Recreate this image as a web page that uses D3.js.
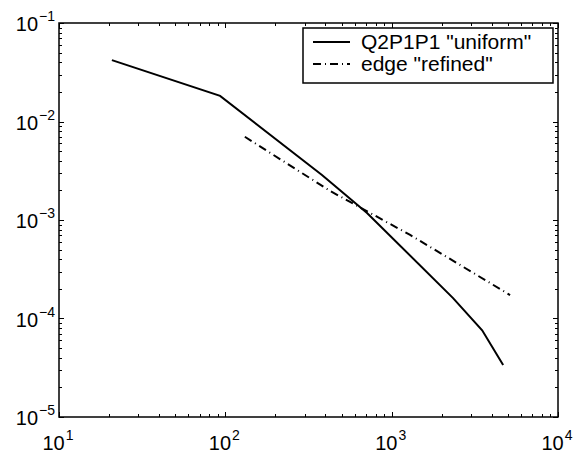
<!DOCTYPE html>
<html>
<head>
<meta charset="utf-8">
<script src="https://cdn.jsdelivr.net/npm/d3@7"></script>
<style>
  body { margin: 0; background: #fff; }
  svg text { font-family: "Liberation Sans", Arial, sans-serif; fill: #000; }
</style>
</head>
<body>
<div class="chart"></div>
<script>
// values
const uniformDofs = [20.8, 93, 381, 711, 2340, 3500, 4680]
const uniformErr = [0.042, 0.0182, 2.86e-3, 1.18e-3, 1.61e-4, 7.6e-5, 3.37e-5]
const refinedDofs = [131, 427, 1291, 5150]
const refinedErr = [7.0e-3, 1.97e-3, 7.05e-4, 1.73e-4]
const xTicks = [10, 100, 1000, 10000]
const yTicks = [1e-5, 1e-4, 1e-3, 1e-2, 1e-1]
const seriesNames = ['Q2P1P1 "uniform"', 'edge "refined"']

const width = 576
const height = 453
const margin = {left: 59, right: 18, top: 23, bottom: 36}

const svg = d3.select(".chart").append("svg")
    .attr("width", width)
    .attr("height", height)
    .attr("viewBox", [0, 0, width, height])

const x = d3.scaleLog()
    .domain([10, 10000])
    .range([margin.left, width - margin.right])
const y = d3.scaleLog()
    .domain([1e-5, 1e-1])
    .range([height - margin.bottom, margin.top])

const [x0, x1] = x.range()
const [y0, y1] = [y.range()[1], y.range()[0]]

// minor ticks for each decade
const minorTicks = (scale) => {
    const [a, b] = scale.domain()
    const out = []
    for (let e = Math.round(Math.log10(a)); e < Math.round(Math.log10(b)); e++) {
        for (let k = 2; k <= 9; k++) out.push(k * Math.pow(10, e))
    }
    return out
}

const ticks = svg.append("g").attr("stroke", "#000").attr("stroke-width", 1)

const addXTicks = (vals, len) => {
    vals.forEach(v => {
        const px = Math.round(x(v)) + 0.5
        ticks.append("line").attr("x1", px).attr("x2", px).attr("y1", y1).attr("y2", y1 - len)
        ticks.append("line").attr("x1", px).attr("x2", px).attr("y1", y0).attr("y2", y0 + len)
    })
}
const addYTicks = (vals, len) => {
    vals.forEach(v => {
        const py = Math.round(y(v)) + 0.5
        ticks.append("line").attr("x1", x0).attr("x2", x0 + len).attr("y1", py).attr("y2", py)
        ticks.append("line").attr("x1", x1).attr("x2", x1 - len).attr("y1", py).attr("y2", py)
    })
}
addXTicks(xTicks, 5)
addXTicks(minorTicks(x), 3)
addYTicks(yTicks, 5)
addYTicks(minorTicks(y), 3)

svg.append("rect")
    .attr("x", x0).attr("y", y0)
    .attr("width", x1 - x0).attr("height", y1 - y0)
    .attr("fill", "none")
    .attr("stroke", "#000")
    .attr("stroke-width", 1.5)

// tick labels as 10 with superscript
const expOf = v => Math.round(Math.log10(v))

const xLab = svg.append("g")
    .selectAll("text")
    .data(xTicks)
    .join("text")
    .attr("x", d => x(d) - 1)
    .attr("y", y1 + 33)
    .attr("text-anchor", "middle")
    .style("font-size", "20px")
xLab.append("tspan").text("10")
xLab.append("tspan")
    .attr("dy", -10)
    .attr("dx", 1)
    .style("font-size", "14px")
    .text(d => expOf(d))

const yLab = svg.append("g")
    .selectAll("text")
    .data(yTicks)
    .join("text")
    .attr("x", x0 - 4)
    .attr("y", d => y(d) + 8)
    .attr("text-anchor", "end")
    .style("font-size", "20px")
yLab.append("tspan").text("10")
yLab.append("tspan")
    .attr("dy", -10)
    .attr("dx", 1)
    .style("font-size", "14px")
    .text(d => "\u2212" + Math.abs(expOf(d)))

const line = d3.line()
    .x(d => x(d[0]))
    .y(d => y(d[1]))

svg.append("path")
    .datum(d3.zip(uniformDofs, uniformErr))
    .attr("d", line)
    .attr("fill", "none")
    .attr("stroke", "#000")
    .attr("stroke-width", 2)

svg.append("path")
    .datum(d3.zip(refinedDofs, refinedErr))
    .attr("d", line)
    .attr("fill", "none")
    .attr("stroke", "#000")
    .attr("stroke-width", 2)
    .attr("stroke-dasharray", "8,4,1,4")

// legend
const legend = svg.append("g").attr("transform", "translate(303,28)")
legend.append("rect")
    .attr("x", 0).attr("y", 0)
    .attr("width", 250).attr("height", 55)
    .attr("fill", "#fff")
    .attr("stroke", "#000")
    .attr("stroke-width", 1.5)

seriesNames.forEach((name, i) => {
    const cy = 14 + i * 22
    legend.append("line")
        .attr("x1", 10).attr("x2", 47)
        .attr("y1", cy).attr("y2", cy)
        .attr("stroke", "#000")
        .attr("stroke-width", 2)
        .attr("stroke-dasharray", i === 0 ? null : "8,4,1,4")
    legend.append("text")
        .attr("x", 58)
        .attr("y", cy + 7)
        .style("font-size", "21px")
        .text(name)
})
</script>
</body>
</html>
